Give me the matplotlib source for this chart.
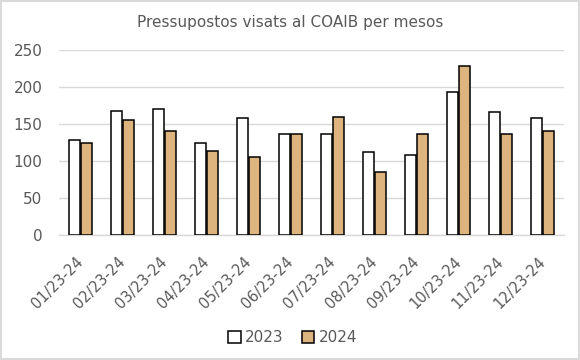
import matplotlib
matplotlib.use("Agg")
import matplotlib.pyplot as plt
import matplotlib.transforms as mtransforms
import numpy as np
from matplotlib.patches import Rectangle

categories = ["01/23-24", "02/23-24", "03/23-24", "04/23-24", "05/23-24", "06/23-24",
              "07/23-24", "08/23-24", "09/23-24", "10/23-24", "11/23-24", "12/23-24"]
values_2023 = [129, 167, 170, 125, 158, 136, 137, 112, 108, 193, 166, 158]
values_2024 = [125, 156, 141, 113, 105, 136, 159, 85, 137, 228, 136, 141]
yticks = [0, 50, 100, 150, 200, 250]

text_color = "#595959"
grid_color = "#d9d9d9"
color_2024 = "#DEB47E"

plt.rcParams['font.family'] = ['DejaVu Sans']

fig = plt.figure(figsize=(5.8, 3.6), dpi=100)
ax = fig.add_axes([0.102, 0.347, 0.870, 0.514])

x = np.arange(len(categories))
w = 0.26
gap = 0.03
ax.bar(x - (w + gap) / 2, values_2023, width=w, color="white", edgecolor="black",
       linewidth=1.1, label="2023", zorder=3)
ax.bar(x + (w + gap) / 2, values_2024, width=w, color=color_2024, edgecolor="black",
       linewidth=1.1, label="2024", zorder=3)

ax.set_xlim(-0.5, len(categories) - 0.5)
ax.set_ylim(0, 250)
ax.set_yticks(yticks)
ax.set_yticklabels([str(v) for v in yticks])
ax.yaxis.grid(True, color=grid_color, linewidth=1.0, zorder=0)
ax.set_axisbelow(True)
for s in ["top", "right", "left"]:
    ax.spines[s].set_visible(False)
ax.spines["bottom"].set_color(grid_color)
ax.spines["bottom"].set_linewidth(1.0)

ax.tick_params(axis="y", length=0, pad=12, labelsize=11, labelcolor=text_color)
ax.set_xticks(x)
ax.set_xticklabels(categories, rotation=45, ha="right", rotation_mode="anchor")
ax.tick_params(axis="x", length=0, pad=13, labelsize=10.5, labelcolor=text_color)
offset = mtransforms.ScaledTranslation(-5 / 100, -1 / 100, fig.dpi_scale_trans)
for lab in ax.get_xticklabels():
    lab.set_transform(lab.get_transform() + offset)

fig.text(0.5, 0.938, "Pressupostos visats al COAIB per mesos", ha="center", va="center",
         fontsize=11, color=text_color)

leg = fig.legend(loc="center", bbox_to_anchor=(0.505, 0.062), ncol=2, frameon=False,
                 fontsize=11, handlelength=0.8, handleheight=0.8, handletextpad=0.3,
                 columnspacing=1.2, labelcolor=text_color)

fig.patches.append(Rectangle((0.002, 0.003), 0.996, 0.994, transform=fig.transFigure,
                             fill=False, edgecolor=grid_color, linewidth=1.5))

fig.savefig("out.png", dpi=100)
